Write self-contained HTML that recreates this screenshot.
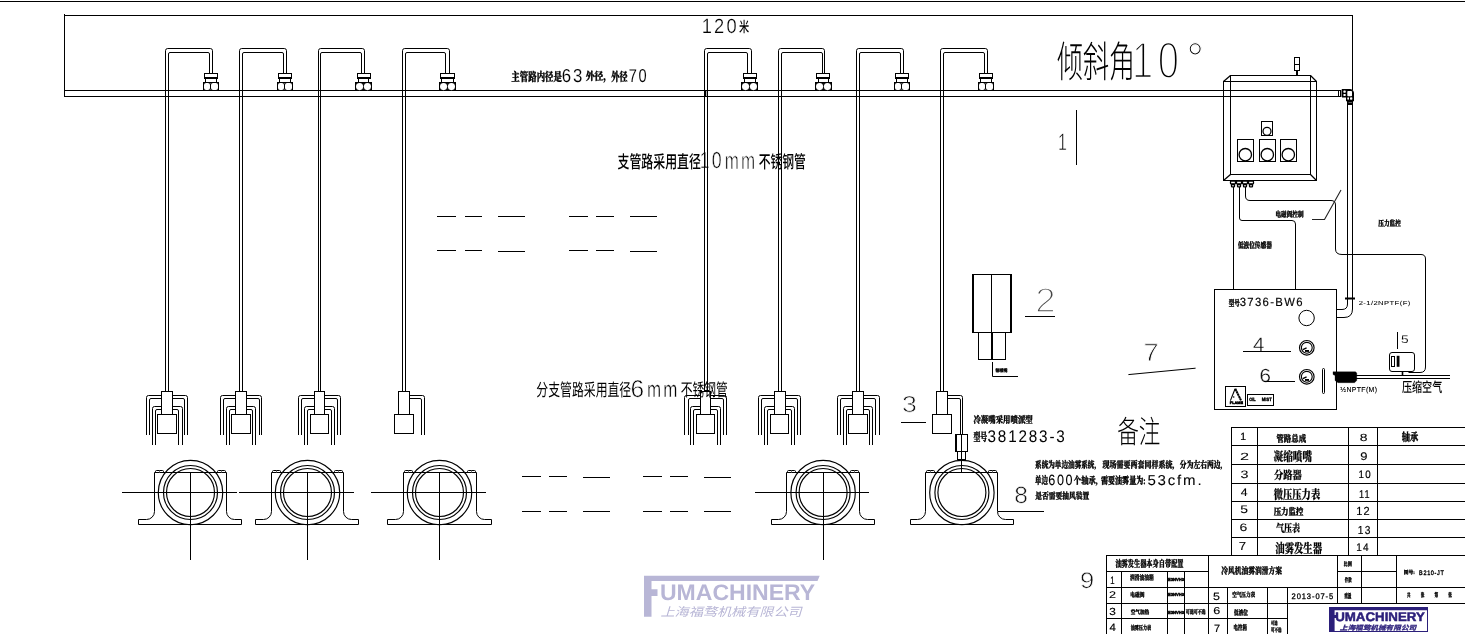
<!DOCTYPE html>
<html lang="zh"><head><meta charset="utf-8"><title>冷风机油雾润滑方案</title>
<style>html,body{margin:0;padding:0;background:#fff;overflow:hidden}svg{display:block}svg text{text-rendering:geometricPrecision}text{white-space:pre}</style></head>
<body><svg width="1465" height="634" viewBox="0 0 1465 634">
<rect width="1465" height="634" fill="#fff"/>
<g opacity="0.999">
<text transform="translate(701.72 33.49) scale(0.8904 1)" font-family='"Liberation Sans", "Noto Sans CJK SC", sans-serif' font-weight="400" font-size="20.56" fill="#000" stroke="#fff" stroke-width="0.25" letter-spacing="0.12em">120</text>
<text transform="translate(739.09 32.39) scale(0.7006 1)" font-family='"Liberation Sans", "Noto Sans CJK SC", sans-serif' font-weight="500" font-size="14.57" fill="#000">米</text>
<text transform="translate(511.33 80.88) scale(0.7009 1)" font-family='"Liberation Serif", "Noto Serif CJK SC", serif' font-weight="900" font-size="12.04" fill="#000" stroke="#000" stroke-width="0.35" stroke-linejoin="round">主管路内径是</text>
<text transform="translate(561.66 81.81) scale(0.8989 1)" font-family='"Liberation Sans", "Noto Sans CJK SC", sans-serif' font-weight="400" font-size="18.73" fill="#000" stroke="#fff" stroke-width="0.09" letter-spacing="0.12em">63</text>
<text transform="translate(585.72 79.8) scale(0.8172 1)" font-family='"Liberation Serif", "Noto Serif CJK SC", serif' font-weight="900" font-size="10.8" fill="#000" stroke="#000" stroke-width="0.35" stroke-linejoin="round">外径，</text>
<text transform="translate(611.34 80.88) scale(0.6769 1)" font-family='"Liberation Serif", "Noto Serif CJK SC", serif' font-weight="900" font-size="12.04" fill="#000" stroke="#000" stroke-width="0.35" stroke-linejoin="round">外径</text>
<text transform="translate(628.67 81.81) scale(0.7825 1)" font-family='"Liberation Sans", "Noto Sans CJK SC", sans-serif' font-weight="400" font-size="18.73" fill="#000" stroke="#fff" stroke-width="0.09" letter-spacing="0.12em">70</text>
<text transform="translate(617.54 168.34) scale(0.6769 1)" font-family='"Liberation Sans", "Noto Sans CJK SC", sans-serif' font-weight="500" font-size="17.6" fill="#000">支管路采用直径</text>
<text transform="translate(699.76 168.47) scale(0.7642 1)" font-family='"Liberation Sans", "Noto Sans CJK SC", sans-serif' font-weight="400" font-size="23.24" fill="#000" stroke="#fff" stroke-width="0.49" letter-spacing="0.12em">10</text>
<text transform="translate(724.78 168.7) scale(0.6937 1)" font-family='"Liberation Sans", "Noto Sans CJK SC", sans-serif' font-weight="400" font-size="24.44" fill="#000" stroke="#fff" stroke-width="0.6" letter-spacing="0.12em">mm</text>
<text transform="translate(758.65 168.34) scale(0.6695 1)" font-family='"Liberation Sans", "Noto Sans CJK SC", sans-serif' font-weight="500" font-size="17.6" fill="#000">不锈钢管</text>
<text transform="translate(536.33 396.26) scale(0.6833 1)" font-family='"Liberation Sans", "Noto Sans CJK SC", sans-serif' font-weight="400" font-size="17.37" fill="#000">分支管路采用直径</text>
<text transform="translate(630.58 396.96) scale(1.0042 1)" font-family='"Liberation Sans", "Noto Sans CJK SC", sans-serif' font-weight="400" font-size="24.37" fill="#000" stroke="#fff" stroke-width="0.6" letter-spacing="0.12em">6</text>
<text transform="translate(646.98 397.2) scale(0.7506 1)" font-family='"Liberation Sans", "Noto Sans CJK SC", sans-serif' font-weight="400" font-size="22.59" fill="#000" stroke="#fff" stroke-width="0.43" letter-spacing="0.12em">mm</text>
<text transform="translate(680.73 396.42) scale(0.6705 1)" font-family='"Liberation Sans", "Noto Sans CJK SC", sans-serif' font-weight="400" font-size="17.55" fill="#000">不锈钢管</text>
<text transform="translate(1056.88 77.27) scale(0.6123 1)" font-family='"Liberation Sans", "Noto Sans CJK SC", sans-serif' font-weight="200" font-size="42.58" fill="#000">倾斜角</text>
<text transform="translate(1131.93 78.08) scale(0.7407 1)" font-family='"Liberation Sans", "Noto Sans CJK SC", sans-serif' font-weight="400" font-size="51.55" fill="#000" stroke="#fff" stroke-width="2.34" letter-spacing="0.12em">10</text>
<text transform="translate(1186.53 73.5) scale(0.9655 1)" font-family='"Liberation Sans", "Noto Sans CJK SC", sans-serif' font-weight="400" font-size="45" fill="#000" stroke="#fff" stroke-width="1.35" letter-spacing="0.12em">°</text>
<text transform="translate(1057.89 149.9) scale(0.6735 1)" font-family='"Liberation Sans", "Noto Sans CJK SC", sans-serif' font-weight="400" font-size="23.62" fill="#111" stroke="#fff" stroke-width="0.53" letter-spacing="0.12em">1</text>
<text transform="translate(1035.36 312.3) scale(1.0627 1)" font-family='"Liberation Sans", "Noto Sans CJK SC", sans-serif' font-weight="400" font-size="34.57" fill="#444" stroke="#fff" stroke-width="1.61" letter-spacing="0.12em">2</text>
<text transform="translate(901.9 412.47) scale(1.1645 1)" font-family='"Liberation Sans", "Noto Sans CJK SC", sans-serif' font-weight="400" font-size="22.96" fill="#111" stroke="#fff" stroke-width="0.69" letter-spacing="0.12em">3</text>
<text transform="translate(1143.44 360.8) scale(1.0870 1)" font-family='"Liberation Sans", "Noto Sans CJK SC", sans-serif' font-weight="400" font-size="25" fill="#111" stroke="#fff" stroke-width="0.78" letter-spacing="0.12em">7</text>
<text transform="translate(1014.22 502.76) scale(1.0452 1)" font-family='"Liberation Sans", "Noto Sans CJK SC", sans-serif' font-weight="400" font-size="23.52" fill="#111" stroke="#fff" stroke-width="0.59" letter-spacing="0.12em">8</text>
<text transform="translate(1079.98 587.77) scale(1.1330 1)" font-family='"Liberation Sans", "Noto Sans CJK SC", sans-serif' font-weight="400" font-size="22.54" fill="#111" stroke="#fff" stroke-width="0.62" letter-spacing="0.12em">9</text>
<text transform="translate(1252.99 350.7) scale(1.0496 1)" font-family='"Liberation Sans", "Noto Sans CJK SC", sans-serif' font-weight="400" font-size="19.43" fill="#111" stroke="#fff" stroke-width="0.22" letter-spacing="0.12em">4</text>
<text transform="translate(1259.57 381.51) scale(1.0774 1)" font-family='"Liberation Sans", "Noto Sans CJK SC", sans-serif' font-weight="400" font-size="19.15" fill="#111" stroke="#fff" stroke-width="0.24" letter-spacing="0.12em">6</text>
<text transform="translate(1400.95 342.89) scale(1.2340 1)" font-family='"Liberation Sans", "Noto Sans CJK SC", sans-serif' font-weight="400" font-size="11.14" fill="#000" stroke="#fff" stroke-width="0.11" letter-spacing="0.12em">5</text>
<text transform="translate(995.56 371.98) scale(0.9100 1)" font-family='"Liberation Serif", "Noto Serif CJK SC", serif' font-weight="900" font-size="4.34" fill="#000" stroke="#000" stroke-width="0.35" stroke-linejoin="round">铜喷嘴</text>
<text transform="translate(973.43 422.69) scale(0.7887 1)" font-family='"Liberation Serif", "Noto Serif CJK SC", serif' font-weight="900" font-size="9.42" fill="#000" stroke="#000" stroke-width="0.35" stroke-linejoin="round">冷凝嘴采用喷派型</text>
<text transform="translate(973.43 440.94) scale(0.5996 1)" font-family='"Liberation Serif", "Noto Serif CJK SC", serif' font-weight="900" font-size="11.43" fill="#000" stroke="#000" stroke-width="0.35" stroke-linejoin="round">型号</text>
<text transform="translate(987.54 442.03) scale(0.9029 1)" font-family='"Liberation Sans", "Noto Sans CJK SC", sans-serif' font-weight="400" font-size="16.9" fill="#000" stroke="#000" stroke-width="0.03" stroke-linejoin="round" letter-spacing="0.12em">381283-3</text>
<text transform="translate(1117.25 442.8) scale(0.6889 1)" font-family='"Liberation Sans", "Noto Sans CJK SC", sans-serif' font-weight="300" font-size="31.29" fill="#000">备注</text>
<text transform="translate(1035.07 467.59) scale(0.7017 1)" font-family='"Liberation Serif", "Noto Serif CJK SC", serif' font-weight="900" font-size="9.42" fill="#000" stroke="#000" stroke-width="0.35" stroke-linejoin="round">系统为单边油雾系统,</text>
<text transform="translate(1102.5 467.61) scale(0.7501 1)" font-family='"Liberation Serif", "Noto Serif CJK SC", serif' font-weight="900" font-size="9.33" fill="#000" stroke="#000" stroke-width="0.35" stroke-linejoin="round">现场需要两套同样系统,</text>
<text transform="translate(1179.86 467.61) scale(0.7263 1)" font-family='"Liberation Serif", "Noto Serif CJK SC", serif' font-weight="900" font-size="9.33" fill="#000" stroke="#000" stroke-width="0.35" stroke-linejoin="round">分为左右两边,</text>
<text transform="translate(1035.07 484.04) scale(0.6210 1)" font-family='"Liberation Serif", "Noto Serif CJK SC", serif' font-weight="900" font-size="10.52" fill="#000" stroke="#000" stroke-width="0.35" stroke-linejoin="round">单边</text>
<text transform="translate(1048.37 485.05) scale(0.8454 1)" font-family='"Liberation Sans", "Noto Sans CJK SC", sans-serif' font-weight="400" font-size="14.93" fill="#000" stroke="#000" stroke-width="0.09" stroke-linejoin="round" letter-spacing="0.12em">600</text>
<text transform="translate(1073.85 483.62) scale(0.7416 1)" font-family='"Liberation Serif", "Noto Serif CJK SC", serif' font-weight="900" font-size="9.9" fill="#000" stroke="#000" stroke-width="0.35" stroke-linejoin="round">个轴承,</text>
<text transform="translate(1101 483.79) scale(0.6971 1)" font-family='"Liberation Serif", "Noto Serif CJK SC", serif' font-weight="900" font-size="10.1" fill="#000" stroke="#000" stroke-width="0.35" stroke-linejoin="round">需要油雾量为:</text>
<text transform="translate(1147.4 485.06) scale(1.0512 1)" font-family='"Liberation Sans", "Noto Sans CJK SC", sans-serif' font-weight="400" font-size="14.32" fill="#000" stroke="#000" stroke-width="0.08" stroke-linejoin="round" letter-spacing="0.12em">53cfm.</text>
<text transform="translate(1035.13 499.15) scale(0.7599 1)" font-family='"Liberation Serif", "Noto Serif CJK SC", serif' font-weight="900" font-size="8.92" fill="#000" stroke="#000" stroke-width="0.35" stroke-linejoin="round">是否需要抽风装置</text>
<text transform="translate(1275.49 217.1) scale(0.7523 1)" font-family='"Liberation Serif", "Noto Serif CJK SC", serif' font-weight="900" font-size="7.48" fill="#000" stroke="#000" stroke-width="0.35" stroke-linejoin="round">电磁阀控制</text>
<text transform="translate(1237.9 247.89) scale(0.7023 1)" font-family='"Liberation Serif", "Noto Serif CJK SC", serif' font-weight="900" font-size="8.06" fill="#000" stroke="#000" stroke-width="0.35" stroke-linejoin="round">低液位传感器</text>
<text transform="translate(1378.29 225.84) scale(0.7453 1)" font-family='"Liberation Serif", "Noto Serif CJK SC", serif' font-weight="900" font-size="7.6" fill="#000" stroke="#000" stroke-width="0.35" stroke-linejoin="round">压力监控</text>
<text transform="translate(1228.74 305.88) scale(0.6613 1)" font-family='"Liberation Serif", "Noto Serif CJK SC", serif' font-weight="900" font-size="8.37" fill="#000" stroke="#000" stroke-width="0.35" stroke-linejoin="round">型号</text>
<text transform="translate(1239.66 306.18) scale(0.9449 1)" font-family='"Liberation Sans", "Noto Sans CJK SC", sans-serif' font-weight="400" font-size="11.97" fill="#000" stroke="#000" stroke-width="0.18" stroke-linejoin="round" letter-spacing="0.12em">3736-BW6</text>
<text transform="translate(1358.72 304.67) scale(1.3127 1)" font-family='"Liberation Sans", "Noto Sans CJK SC", sans-serif' font-weight="400" font-size="5.85" fill="#000" stroke="#000" stroke-width="0.06" stroke-linejoin="round" letter-spacing="0.05em">2-1/2NPTF(F)</text>
<text transform="translate(1340.26 391.8) scale(0.9755 1)" font-family='"Liberation Sans", "Noto Sans CJK SC", sans-serif' font-weight="400" font-size="7.13" fill="#000" stroke="#000" stroke-width="0.13" stroke-linejoin="round" letter-spacing="0.05em">½NPTF(M)</text>
<text transform="translate(1401.9 392.43) scale(0.7346 1)" font-family='"Liberation Sans", "Noto Sans CJK SC", sans-serif' font-weight="500" font-size="13.75" fill="#000">压缩空气</text>
<text transform="translate(1249.14 400.65) scale(0.8442 1)" font-family='"Liberation Sans", "Noto Sans CJK SC", sans-serif' font-weight="700" font-size="4.65" fill="#000" stroke="#000" stroke-width="0.4" stroke-linejoin="round">OIL</text>
<text transform="translate(1261.85 400.65) scale(0.8873 1)" font-family='"Liberation Sans", "Noto Sans CJK SC", sans-serif' font-weight="700" font-size="4.65" fill="#000" stroke="#000" stroke-width="0.4" stroke-linejoin="round">MIST</text>
<text transform="translate(1229.87 403.76) scale(1.0946 1)" font-family='"Liberation Sans", "Noto Sans CJK SC", sans-serif' font-weight="700" font-size="3.52" fill="#000" stroke="#000" stroke-width="0.5" stroke-linejoin="round">FLAME</text>
<text transform="translate(1240.17 440) scale(1.0019 1)" font-family='"Liberation Sans", "Noto Sans CJK SC", sans-serif' font-weight="400" font-size="10.43" fill="#000" stroke="#000" stroke-width="0.23" stroke-linejoin="round" letter-spacing="0.12em">1</text>
<text transform="translate(1240.08 459.6) scale(1.5634 1)" font-family='"Liberation Sans", "Noto Sans CJK SC", sans-serif' font-weight="400" font-size="10.43" fill="#000" stroke="#000" stroke-width="0.03" stroke-linejoin="round" letter-spacing="0.12em">2</text>
<text transform="translate(1240.47 477.59) scale(1.3173 1)" font-family='"Liberation Sans", "Noto Sans CJK SC", sans-serif' font-weight="400" font-size="10.85" fill="#000" stroke="#000" stroke-width="0.08" stroke-linejoin="round" letter-spacing="0.12em">3</text>
<text transform="translate(1240.66 495.9) scale(1.1052 1)" font-family='"Liberation Sans", "Noto Sans CJK SC", sans-serif' font-weight="400" font-size="11" fill="#000" stroke="#000" stroke-width="0.16" stroke-linejoin="round" letter-spacing="0.12em">4</text>
<text transform="translate(1240.34 513.49) scale(1.2689 1)" font-family='"Liberation Sans", "Noto Sans CJK SC", sans-serif' font-weight="400" font-size="11" fill="#000" stroke="#000" stroke-width="0.09" stroke-linejoin="round" letter-spacing="0.12em">5</text>
<text transform="translate(1239.5 531.49) scale(1.2948 1)" font-family='"Liberation Sans", "Noto Sans CJK SC", sans-serif' font-weight="400" font-size="10.85" fill="#000" stroke="#000" stroke-width="0.09" stroke-linejoin="round" letter-spacing="0.12em">6</text>
<text transform="translate(1238.74 549.6) scale(1.1320 1)" font-family='"Liberation Sans", "Noto Sans CJK SC", sans-serif' font-weight="400" font-size="11.71" fill="#000" stroke="#000" stroke-width="0.13" stroke-linejoin="round" letter-spacing="0.12em">7</text>
<text transform="translate(1276.45 442.16) scale(0.7826 1)" font-family='"Liberation Serif", "Noto Serif CJK SC", serif' font-weight="900" font-size="9.49" fill="#000" stroke="#000" stroke-width="0.35" stroke-linejoin="round">管路总成</text>
<text transform="translate(1273.61 461.37) scale(0.7559 1)" font-family='"Liberation Serif", "Noto Serif CJK SC", serif' font-weight="900" font-size="12.73" fill="#000" stroke="#000" stroke-width="0.2" stroke-linejoin="round">凝缩喷嘴</text>
<text transform="translate(1273.91 478.55) scale(0.8205 1)" font-family='"Liberation Serif", "Noto Serif CJK SC", serif' font-weight="900" font-size="11.33" fill="#000" stroke="#000" stroke-width="0.2" stroke-linejoin="round">分路器</text>
<text transform="translate(1273.8 499.27) scale(0.7289 1)" font-family='"Liberation Serif", "Noto Serif CJK SC", serif' font-weight="900" font-size="12.73" fill="#000" stroke="#000" stroke-width="0.2" stroke-linejoin="round">微压压力表</text>
<text transform="translate(1273.65 515.06) scale(0.7926 1)" font-family='"Liberation Serif", "Noto Serif CJK SC", serif' font-weight="900" font-size="9.38" fill="#000" stroke="#000" stroke-width="0.35" stroke-linejoin="round">压力监控</text>
<text transform="translate(1275.94 532.39) scale(0.7401 1)" font-family='"Liberation Serif", "Noto Serif CJK SC", serif' font-weight="900" font-size="10.91" fill="#000" stroke="#000" stroke-width="0.2" stroke-linejoin="round">气压表</text>
<text transform="translate(1275.31 552.55) scale(0.7108 1)" font-family='"Liberation Serif", "Noto Serif CJK SC", serif' font-weight="900" font-size="13.16" fill="#000" stroke="#000" stroke-width="0.2" stroke-linejoin="round">油雾发生器</text>
<text transform="translate(1359.64 440.7) scale(1.3392 1)" font-family='"Liberation Sans", "Noto Sans CJK SC", sans-serif' font-weight="400" font-size="10.42" fill="#000" stroke="#000" stroke-width="0.09" stroke-linejoin="round" letter-spacing="0.12em">8</text>
<text transform="translate(1360.28 460.49) scale(1.1814 1)" font-family='"Liberation Sans", "Noto Sans CJK SC", sans-serif' font-weight="400" font-size="10.99" fill="#000" stroke="#000" stroke-width="0.13" stroke-linejoin="round" letter-spacing="0.12em">9</text>
<text transform="translate(1358.62 477.59) scale(0.9007 1)" font-family='"Liberation Sans", "Noto Sans CJK SC", sans-serif' font-weight="400" font-size="10.85" fill="#000" stroke="#000" stroke-width="0.22" stroke-linejoin="round" letter-spacing="0.12em">10</text>
<text transform="translate(1359.06 498) scale(0.8170 1)" font-family='"Liberation Sans", "Noto Sans CJK SC", sans-serif' font-weight="400" font-size="11.16" fill="#000" stroke="#000" stroke-width="0.21" stroke-linejoin="round" letter-spacing="0.12em">11</text>
<text transform="translate(1356.13 515.2) scale(0.9407 1)" font-family='"Liberation Sans", "Noto Sans CJK SC", sans-serif' font-weight="400" font-size="11.71" fill="#000" stroke="#000" stroke-width="0.19" stroke-linejoin="round" letter-spacing="0.12em">12</text>
<text transform="translate(1357.79 533.98) scale(0.8842 1)" font-family='"Liberation Sans", "Noto Sans CJK SC", sans-serif' font-weight="400" font-size="11.55" fill="#000" stroke="#000" stroke-width="0.2" stroke-linejoin="round" letter-spacing="0.12em">13</text>
<text transform="translate(1356.2 550.8) scale(0.9122 1)" font-family='"Liberation Sans", "Noto Sans CJK SC", sans-serif' font-weight="400" font-size="11" fill="#000" stroke="#000" stroke-width="0.21" stroke-linejoin="round" letter-spacing="0.12em">14</text>
<text transform="translate(1401.82 440.97) scale(0.7304 1)" font-family='"Liberation Serif", "Noto Serif CJK SC", serif' font-weight="900" font-size="11.34" fill="#000" stroke="#000" stroke-width="0.35" stroke-linejoin="round">轴承</text>
<text transform="translate(1115.38 567.16) scale(0.6532 1)" font-family='"Liberation Serif", "Noto Serif CJK SC", serif' font-weight="900" font-size="9.49" fill="#000" stroke="#000" stroke-width="0.35" stroke-linejoin="round">油雾发生器本身自带配置</text>
<text transform="translate(1221.23 573.92) scale(0.7323 1)" font-family='"Liberation Serif", "Noto Serif CJK SC", serif' font-weight="900" font-size="9.23" fill="#000" stroke="#000" stroke-width="0.35" stroke-linejoin="round">冷风机油雾润滑方案</text>
<text transform="translate(1110.16 584.1) scale(0.7109 1)" font-family='"Liberation Sans", "Noto Sans CJK SC", sans-serif' font-weight="400" font-size="10.87" fill="#000" stroke="#000" stroke-width="0.22" stroke-linejoin="round" letter-spacing="0.12em">1</text>
<text transform="translate(1109.07 597.8) scale(1.2980 1)" font-family='"Liberation Sans", "Noto Sans CJK SC", sans-serif' font-weight="400" font-size="9.71" fill="#000" stroke="#000" stroke-width="0.13" stroke-linejoin="round" letter-spacing="0.12em">2</text>
<text transform="translate(1109.34 615.2) scale(1.1512 1)" font-family='"Liberation Sans", "Noto Sans CJK SC", sans-serif' font-weight="400" font-size="10.28" fill="#000" stroke="#000" stroke-width="0.16" stroke-linejoin="round" letter-spacing="0.12em">3</text>
<text transform="translate(1109.47 630.5) scale(1.0614 1)" font-family='"Liberation Sans", "Noto Sans CJK SC", sans-serif' font-weight="400" font-size="10.71" fill="#000" stroke="#000" stroke-width="0.19" stroke-linejoin="round" letter-spacing="0.12em">4</text>
<text transform="translate(1130.11 580.34) scale(0.6828 1)" font-family='"Liberation Serif", "Noto Serif CJK SC", serif' font-weight="900" font-size="6.94" fill="#000" stroke="#000" stroke-width="0.35" stroke-linejoin="round">润滑油油箱</text>
<text transform="translate(1130.37 596.81) scale(0.7626 1)" font-family='"Liberation Serif", "Noto Serif CJK SC", serif' font-weight="900" font-size="6.21" fill="#000" stroke="#000" stroke-width="0.35" stroke-linejoin="round">电磁阀</text>
<text transform="translate(1130.75 613.77) scale(0.8083 1)" font-family='"Liberation Serif", "Noto Serif CJK SC", serif' font-weight="900" font-size="5.7" fill="#000" stroke="#000" stroke-width="0.35" stroke-linejoin="round">空气加热</text>
<text transform="translate(1130.72 629.55) scale(0.6503 1)" font-family='"Liberation Serif", "Noto Serif CJK SC", serif' font-weight="900" font-size="6.26" fill="#000" stroke="#000" stroke-width="0.35" stroke-linejoin="round">油雾压力表</text>
<text transform="translate(1168.05 580.66) scale(0.9792 1)" font-family='"Liberation Sans", "Noto Sans CJK SC", sans-serif' font-weight="700" font-size="4.23" fill="#000" stroke="#000" stroke-width="0.45" stroke-linejoin="round">E3NVH0</text>
<text transform="translate(1168.05 596.36) scale(0.9792 1)" font-family='"Liberation Sans", "Noto Sans CJK SC", sans-serif' font-weight="700" font-size="4.23" fill="#000" stroke="#000" stroke-width="0.45" stroke-linejoin="round">E3NVH0</text>
<text transform="translate(1168.05 613.76) scale(0.9792 1)" font-family='"Liberation Sans", "Noto Sans CJK SC", sans-serif' font-weight="700" font-size="4.23" fill="#000" stroke="#000" stroke-width="0.45" stroke-linejoin="round">E3NVH0</text>
<text transform="translate(1185.72 613.61) scale(0.6731 1)" font-family='"Liberation Serif", "Noto Serif CJK SC", serif' font-weight="900" font-size="5.92" fill="#000" stroke="#000" stroke-width="0.35" stroke-linejoin="round">可选可不选</text>
<text transform="translate(1213 599.69) scale(1.1667 1)" font-family='"Liberation Sans", "Noto Sans CJK SC", sans-serif' font-weight="400" font-size="10.71" fill="#000" stroke="#000" stroke-width="0.14" stroke-linejoin="round" letter-spacing="0.12em">5</text>
<text transform="translate(1213.37 614.1) scale(1.2553 1)" font-family='"Liberation Sans", "Noto Sans CJK SC", sans-serif' font-weight="400" font-size="10" fill="#000" stroke="#000" stroke-width="0.13" stroke-linejoin="round" letter-spacing="0.12em">6</text>
<text transform="translate(1213.96 631.9) scale(1.0145 1)" font-family='"Liberation Sans", "Noto Sans CJK SC", sans-serif' font-weight="400" font-size="10.71" fill="#000" stroke="#000" stroke-width="0.21" stroke-linejoin="round" letter-spacing="0.12em">7</text>
<text transform="translate(1232.15 597.33) scale(0.7128 1)" font-family='"Liberation Serif", "Noto Serif CJK SC", serif' font-weight="900" font-size="6.44" fill="#000" stroke="#000" stroke-width="0.35" stroke-linejoin="round">空气压力表</text>
<text transform="translate(1234 614.77) scale(0.6767 1)" font-family='"Liberation Serif", "Noto Serif CJK SC", serif' font-weight="900" font-size="6.89" fill="#000" stroke="#000" stroke-width="0.35" stroke-linejoin="round">低液位</text>
<text transform="translate(1233.6 629.8) scale(0.6318 1)" font-family='"Liberation Serif", "Noto Serif CJK SC", serif' font-weight="900" font-size="7.01" fill="#000" stroke="#000" stroke-width="0.35" stroke-linejoin="round">电控箱</text>
<text transform="translate(1271.04 624.97) scale(0.6123 1)" font-family='"Liberation Serif", "Noto Serif CJK SC", serif' font-weight="900" font-size="5.31" fill="#000" stroke="#000" stroke-width="0.35" stroke-linejoin="round">可选</text>
<text transform="translate(1271.03 632.05) scale(0.6233 1)" font-family='"Liberation Serif", "Noto Serif CJK SC", serif' font-weight="900" font-size="5.51" fill="#000" stroke="#000" stroke-width="0.35" stroke-linejoin="round">可不选</text>
<text transform="translate(1343.57 565.78) scale(0.7315 1)" font-family='"Liberation Serif", "Noto Serif CJK SC", serif' font-weight="900" font-size="5.61" fill="#000" stroke="#000" stroke-width="0.35" stroke-linejoin="round">比例</text>
<text transform="translate(1344.87 581.53) scale(0.6026 1)" font-family='"Liberation Serif", "Noto Serif CJK SC", serif' font-weight="900" font-size="5.67" fill="#000" stroke="#000" stroke-width="0.35" stroke-linejoin="round">件数</text>
<text transform="translate(1344.13 598.4) scale(0.5833 1)" font-family='"Liberation Serif", "Noto Serif CJK SC", serif' font-weight="900" font-size="6.21" fill="#000" stroke="#000" stroke-width="0.35" stroke-linejoin="round">重量</text>
<text transform="translate(1403.77 574.24) scale(0.9346 1)" font-family='"Liberation Serif", "Noto Serif CJK SC", serif' font-weight="900" font-size="5.1" fill="#000" stroke="#000" stroke-width="0.35" stroke-linejoin="round">图号:</text>
<text transform="translate(1419.06 574.54) scale(0.8527 1)" font-family='"Liberation Sans", "Noto Sans CJK SC", sans-serif' font-weight="400" font-size="6.48" fill="#000" stroke="#000" stroke-width="0.36" stroke-linejoin="round" letter-spacing="0.12em">B210-JT</text>
<text transform="translate(1406.93 597.05) scale(0.6140 1)" font-family='"Liberation Serif", "Noto Serif CJK SC", serif' font-weight="900" font-size="5.59" fill="#000" stroke="#000" stroke-width="0.35" stroke-linejoin="round">共</text>
<text transform="translate(1420.69 597.41) scale(0.6140 1)" font-family='"Liberation Serif", "Noto Serif CJK SC", serif' font-weight="900" font-size="5.94" fill="#000" stroke="#000" stroke-width="0.35" stroke-linejoin="round">张</text>
<text transform="translate(1434.53 597.41) scale(0.6140 1)" font-family='"Liberation Serif", "Noto Serif CJK SC", serif' font-weight="900" font-size="5.94" fill="#000" stroke="#000" stroke-width="0.35" stroke-linejoin="round">第</text>
<text transform="translate(1448.29 597.41) scale(0.6140 1)" font-family='"Liberation Serif", "Noto Serif CJK SC", serif' font-weight="900" font-size="5.94" fill="#000" stroke="#000" stroke-width="0.35" stroke-linejoin="round">张</text>
<text transform="translate(1291.52 598.62) scale(0.9423 1)" font-family='"Liberation Sans", "Noto Sans CJK SC", sans-serif' font-weight="400" font-size="8.03" fill="#000" stroke="#000" stroke-width="0.31" stroke-linejoin="round" letter-spacing="0.12em">2013-07-5</text>
<text transform="translate(659.92 599.98) scale(1.0297 1)" font-family='"Liberation Sans", "Noto Sans CJK SC", sans-serif' font-weight="700" font-size="22.39" fill="#b8b6d6">UMACHINERY</text>
<text transform="translate(660.43 616.05) scale(1.1946 1)" font-family='"Liberation Sans", "Noto Sans CJK SC", sans-serif' font-weight="400" font-style="italic" font-size="11.83" fill="#b8b6d6">上海福骛机械有限公司</text>
<text transform="translate(1335.2 620.87) scale(1.0603 1)" font-family='"Liberation Sans", "Noto Sans CJK SC", sans-serif' font-weight="700" font-size="12.54" fill="#2b1f7a" stroke="#2b1f7a" stroke-width="0.5" stroke-linejoin="round">UMACHINERY</text>
<text transform="translate(1339.77 629.86) scale(1.1928 1)" font-family='"Liberation Sans", "Noto Sans CJK SC", sans-serif' font-weight="700" font-style="italic" font-size="6.42" fill="#2b1f7a" stroke="#2b1f7a" stroke-width="0.3" stroke-linejoin="round">上海福骛机械有限公司</text>
</g>
<g stroke-linecap="butt" stroke-linejoin="miter">
<line x1="0" y1="1.5" x2="1465" y2="1.5" stroke="#000" stroke-width="1"/>
<line x1="64.5" y1="14" x2="64.5" y2="97" stroke="#000" stroke-width="1"/>
<line x1="64" y1="15.5" x2="1353" y2="15.5" stroke="#000" stroke-width="1"/>
<line x1="1352.5" y1="15" x2="1352.5" y2="90" stroke="#000" stroke-width="1"/>
<line x1="64" y1="90.5" x2="1341" y2="90.5" stroke="#000" stroke-width="1"/>
<line x1="64" y1="96.5" x2="1341" y2="96.5" stroke="#000" stroke-width="1"/>
<path d="M165.5 391 V50.7 Q165.5 48.5 167.7 48.5 H210.3 Q212.5 48.5 212.5 50.7 V73" fill="none" stroke="#000" stroke-width="1"/>
<path d="M168.5 391 V54 Q168.5 52.5 170 52.5 H208 Q209.5 52.5 209.5 54 V73" fill="none" stroke="#000" stroke-width="1"/>
<rect x="204.5" y="73.5" width="13" height="5" fill="none" stroke="#000" stroke-width="1"/>
<line x1="204" y1="77.5" x2="218" y2="77.5" stroke="#000" stroke-width="1"/>
<rect x="205.5" y="78.5" width="11" height="4" fill="none" stroke="#000" stroke-width="1"/>
<rect x="203.5" y="82.5" width="15" height="8" fill="none" stroke="#000" stroke-width="1"/>
<rect x="203.5" y="82.5" width="7" height="8" fill="none" stroke="#000" stroke-width="1" rx="2.5"/>
<rect x="210.5" y="82.5" width="8" height="8" fill="none" stroke="#000" stroke-width="1" rx="2.5"/>
<path d="M239.5 391 V50.7 Q239.5 48.5 241.7 48.5 H284.3 Q286.5 48.5 286.5 50.7 V73" fill="none" stroke="#000" stroke-width="1"/>
<path d="M242.5 391 V54 Q242.5 52.5 244 52.5 H282 Q283.5 52.5 283.5 54 V73" fill="none" stroke="#000" stroke-width="1"/>
<rect x="278.5" y="73.5" width="13" height="5" fill="none" stroke="#000" stroke-width="1"/>
<line x1="278" y1="77.5" x2="292" y2="77.5" stroke="#000" stroke-width="1"/>
<rect x="279.5" y="78.5" width="11" height="4" fill="none" stroke="#000" stroke-width="1"/>
<rect x="277.5" y="82.5" width="15" height="8" fill="none" stroke="#000" stroke-width="1"/>
<rect x="277.5" y="82.5" width="7" height="8" fill="none" stroke="#000" stroke-width="1" rx="2.5"/>
<rect x="284.5" y="82.5" width="8" height="8" fill="none" stroke="#000" stroke-width="1" rx="2.5"/>
<path d="M318.5 391 V50.7 Q318.5 48.5 320.7 48.5 H362.3 Q364.5 48.5 364.5 50.7 V73" fill="none" stroke="#000" stroke-width="1"/>
<path d="M320.5 391 V54 Q320.5 52.5 322 52.5 H360 Q361.5 52.5 361.5 54 V73" fill="none" stroke="#000" stroke-width="1"/>
<rect x="357.5" y="73.5" width="13" height="5" fill="none" stroke="#000" stroke-width="1"/>
<line x1="357" y1="77.5" x2="371" y2="77.5" stroke="#000" stroke-width="1"/>
<rect x="358.5" y="78.5" width="10" height="4" fill="none" stroke="#000" stroke-width="1"/>
<rect x="355.5" y="82.5" width="16" height="8" fill="#111" stroke="#000" stroke-width="1"/>
<circle cx="359.55" cy="86.6" r="3.55" fill="#fff" stroke="#000" stroke-width="0"/>
<circle cx="367.45" cy="86.6" r="3.55" fill="#fff" stroke="#000" stroke-width="0"/>
<path d="M402.5 391 V50.7 Q402.5 48.5 404.7 48.5 H447.3 Q449.5 48.5 449.5 50.7 V73" fill="none" stroke="#000" stroke-width="1"/>
<path d="M405.5 391 V54 Q405.5 52.5 407 52.5 H444 Q445.5 52.5 445.5 54 V73" fill="none" stroke="#000" stroke-width="1"/>
<rect x="440.5" y="73.5" width="14" height="5" fill="none" stroke="#000" stroke-width="1"/>
<line x1="440" y1="77.5" x2="455" y2="77.5" stroke="#000" stroke-width="1"/>
<rect x="441.5" y="78.5" width="12" height="4" fill="none" stroke="#000" stroke-width="1"/>
<rect x="439.5" y="82.5" width="16" height="8" fill="#111" stroke="#000" stroke-width="1"/>
<circle cx="443.55" cy="86.6" r="3.55" fill="#fff" stroke="#000" stroke-width="0"/>
<circle cx="451.45" cy="86.6" r="3.55" fill="#fff" stroke="#000" stroke-width="0"/>
<path d="M704.5 391 V50.7 Q704.5 48.5 706.7 48.5 H749.3 Q751.5 48.5 751.5 50.7 V73" fill="none" stroke="#000" stroke-width="1"/>
<path d="M707.5 391 V54 Q707.5 52.5 709 52.5 H746 Q747.5 52.5 747.5 54 V73" fill="none" stroke="#000" stroke-width="1"/>
<rect x="743.5" y="73.5" width="13" height="5" fill="none" stroke="#000" stroke-width="1"/>
<line x1="743" y1="77.5" x2="757" y2="77.5" stroke="#000" stroke-width="1"/>
<rect x="744.5" y="78.5" width="11" height="4" fill="none" stroke="#000" stroke-width="1"/>
<rect x="741.5" y="82.5" width="16" height="8" fill="#111" stroke="#000" stroke-width="1"/>
<circle cx="745.55" cy="86.6" r="3.55" fill="#fff" stroke="#000" stroke-width="0"/>
<circle cx="753.45" cy="86.6" r="3.55" fill="#fff" stroke="#000" stroke-width="0"/>
<path d="M778.5 391 V50.7 Q778.5 48.5 780.7 48.5 H822.3 Q824.5 48.5 824.5 50.7 V73" fill="none" stroke="#000" stroke-width="1"/>
<path d="M781.5 391 V54 Q781.5 52.5 783 52.5 H821 Q822.5 52.5 822.5 54 V73" fill="none" stroke="#000" stroke-width="1"/>
<rect x="816.5" y="73.5" width="13" height="5" fill="none" stroke="#000" stroke-width="1"/>
<line x1="816" y1="77.5" x2="830" y2="77.5" stroke="#000" stroke-width="1"/>
<rect x="818.5" y="78.5" width="10" height="4" fill="none" stroke="#000" stroke-width="1"/>
<rect x="815.5" y="82.5" width="16" height="8" fill="#111" stroke="#000" stroke-width="1"/>
<circle cx="819.55" cy="86.6" r="3.55" fill="#fff" stroke="#000" stroke-width="0"/>
<circle cx="827.45" cy="86.6" r="3.55" fill="#fff" stroke="#000" stroke-width="0"/>
<path d="M856.5 391 V50.7 Q856.5 48.5 858.7 48.5 H901.3 Q903.5 48.5 903.5 50.7 V73" fill="none" stroke="#000" stroke-width="1"/>
<path d="M859.5 391 V54 Q859.5 52.5 861 52.5 H899 Q900.5 52.5 900.5 54 V73" fill="none" stroke="#000" stroke-width="1"/>
<rect x="895.5" y="73.5" width="13" height="5" fill="none" stroke="#000" stroke-width="1"/>
<line x1="895" y1="77.5" x2="909" y2="77.5" stroke="#000" stroke-width="1"/>
<rect x="896.5" y="78.5" width="11" height="4" fill="none" stroke="#000" stroke-width="1"/>
<rect x="894.5" y="82.5" width="15" height="8" fill="none" stroke="#000" stroke-width="1"/>
<rect x="894.5" y="82.5" width="7" height="8" fill="none" stroke="#000" stroke-width="1" rx="2.5"/>
<rect x="901.5" y="82.5" width="8" height="8" fill="none" stroke="#000" stroke-width="1" rx="2.5"/>
<path d="M940.5 391 V50.7 Q940.5 48.5 942.7 48.5 H985.3 Q987.5 48.5 987.5 50.7 V73" fill="none" stroke="#000" stroke-width="1"/>
<path d="M943.5 391 V54 Q943.5 52.5 945 52.5 H983 Q984.5 52.5 984.5 54 V73" fill="none" stroke="#000" stroke-width="1"/>
<rect x="979.5" y="73.5" width="13" height="5" fill="none" stroke="#000" stroke-width="1"/>
<line x1="979" y1="77.5" x2="993" y2="77.5" stroke="#000" stroke-width="1"/>
<rect x="980.5" y="78.5" width="11" height="4" fill="none" stroke="#000" stroke-width="1"/>
<rect x="978.5" y="82.5" width="15" height="8" fill="none" stroke="#000" stroke-width="1"/>
<rect x="978.5" y="82.5" width="7" height="8" fill="none" stroke="#000" stroke-width="1" rx="2.5"/>
<rect x="985.5" y="82.5" width="8" height="8" fill="none" stroke="#000" stroke-width="1" rx="2.5"/>
<rect x="704.7" y="91" width="1.6" height="5" fill="#000"/>
<rect x="161.5" y="391.5" width="11" height="23" fill="none" stroke="#000" stroke-width="1"/>
<rect x="157.5" y="414.5" width="19" height="19" fill="none" stroke="#000" stroke-width="1"/>
<path d="M146.5 435 V397.5 Q146.5 395.5 148.5 395.5 H161" fill="none" stroke="#000" stroke-width="1"/>
<path d="M149.5 435 V400 Q149.5 398.5 151 398.5 H161" fill="none" stroke="#000" stroke-width="1"/>
<path d="M152.5 445 V408.5 Q152.5 406.5 154.5 406.5 H161" fill="none" stroke="#000" stroke-width="1"/>
<path d="M155.5 445 V411 Q155.5 409.5 157 409.5 H161" fill="none" stroke="#000" stroke-width="1"/>
<path d="M178.5 445 V411 Q178.5 409.5 177 409.5 H173" fill="none" stroke="#000" stroke-width="1"/>
<path d="M182.5 445 V408.5 Q182.5 406.5 180.5 406.5 H173" fill="none" stroke="#000" stroke-width="1"/>
<path d="M184.5 435 V400 Q184.5 398.5 183 398.5 H173" fill="none" stroke="#000" stroke-width="1"/>
<path d="M187.5 435 V397.5 Q187.5 395.5 185.5 395.5 H173" fill="none" stroke="#000" stroke-width="1"/>
<rect x="235.5" y="391.5" width="11" height="23" fill="none" stroke="#000" stroke-width="1"/>
<rect x="231.5" y="414.5" width="19" height="19" fill="none" stroke="#000" stroke-width="1"/>
<path d="M220.5 435 V397.5 Q220.5 395.5 222.5 395.5 H235" fill="none" stroke="#000" stroke-width="1"/>
<path d="M223.5 435 V400 Q223.5 398.5 225 398.5 H235" fill="none" stroke="#000" stroke-width="1"/>
<path d="M226.5 445 V408.5 Q226.5 406.5 228.5 406.5 H235" fill="none" stroke="#000" stroke-width="1"/>
<path d="M229.5 445 V411 Q229.5 409.5 231 409.5 H235" fill="none" stroke="#000" stroke-width="1"/>
<path d="M252.5 445 V411 Q252.5 409.5 251 409.5 H247" fill="none" stroke="#000" stroke-width="1"/>
<path d="M255.5 445 V408.5 Q255.5 406.5 253.5 406.5 H247" fill="none" stroke="#000" stroke-width="1"/>
<path d="M259.5 435 V400 Q259.5 398.5 258 398.5 H247" fill="none" stroke="#000" stroke-width="1"/>
<path d="M261.5 435 V397.5 Q261.5 395.5 259.5 395.5 H247" fill="none" stroke="#000" stroke-width="1"/>
<rect x="314.5" y="391.5" width="10" height="23" fill="none" stroke="#000" stroke-width="1"/>
<rect x="310.5" y="414.5" width="18" height="19" fill="none" stroke="#000" stroke-width="1"/>
<path d="M298.5 435 V397.5 Q298.5 395.5 300.5 395.5 H314" fill="none" stroke="#000" stroke-width="1"/>
<path d="M301.5 435 V400 Q301.5 398.5 303 398.5 H314" fill="none" stroke="#000" stroke-width="1"/>
<path d="M304.5 445 V408.5 Q304.5 406.5 306.5 406.5 H314" fill="none" stroke="#000" stroke-width="1"/>
<path d="M307.5 445 V411 Q307.5 409.5 309 409.5 H314" fill="none" stroke="#000" stroke-width="1"/>
<path d="M331.5 445 V411 Q331.5 409.5 330 409.5 H325" fill="none" stroke="#000" stroke-width="1"/>
<path d="M334.5 445 V408.5 Q334.5 406.5 332.5 406.5 H325" fill="none" stroke="#000" stroke-width="1"/>
<path d="M337.5 435 V400 Q337.5 398.5 336 398.5 H325" fill="none" stroke="#000" stroke-width="1"/>
<path d="M340.5 435 V397.5 Q340.5 395.5 338.5 395.5 H325" fill="none" stroke="#000" stroke-width="1"/>
<rect x="398.5" y="391.5" width="11" height="23" fill="none" stroke="#000" stroke-width="1"/>
<rect x="394.5" y="414.5" width="19" height="19" fill="none" stroke="#000" stroke-width="1"/>
<path d="M421.5 435 V400 Q421.5 398.5 420 398.5 H410" fill="none" stroke="#000" stroke-width="1"/>
<path d="M424.5 435 V397.5 Q424.5 395.5 422.5 395.5 H410" fill="none" stroke="#000" stroke-width="1"/>
<rect x="700.5" y="391.5" width="10" height="23" fill="none" stroke="#000" stroke-width="1"/>
<rect x="696.5" y="414.5" width="18" height="19" fill="none" stroke="#000" stroke-width="1"/>
<path d="M684.5 435 V397.5 Q684.5 395.5 686.5 395.5 H700" fill="none" stroke="#000" stroke-width="1"/>
<path d="M688.5 435 V400 Q688.5 398.5 690 398.5 H700" fill="none" stroke="#000" stroke-width="1"/>
<path d="M690.5 445 V408.5 Q690.5 406.5 692.5 406.5 H700" fill="none" stroke="#000" stroke-width="1"/>
<path d="M693.5 445 V411 Q693.5 409.5 695 409.5 H700" fill="none" stroke="#000" stroke-width="1"/>
<path d="M717.5 445 V411 Q717.5 409.5 716 409.5 H711" fill="none" stroke="#000" stroke-width="1"/>
<path d="M720.5 445 V408.5 Q720.5 406.5 718.5 406.5 H711" fill="none" stroke="#000" stroke-width="1"/>
<path d="M723.5 435 V400 Q723.5 398.5 722 398.5 H711" fill="none" stroke="#000" stroke-width="1"/>
<path d="M726.5 435 V397.5 Q726.5 395.5 724.5 395.5 H711" fill="none" stroke="#000" stroke-width="1"/>
<rect x="774.5" y="391.5" width="11" height="23" fill="none" stroke="#000" stroke-width="1"/>
<rect x="770.5" y="414.5" width="18" height="19" fill="none" stroke="#000" stroke-width="1"/>
<path d="M758.5 435 V397.5 Q758.5 395.5 760.5 395.5 H774" fill="none" stroke="#000" stroke-width="1"/>
<path d="M761.5 435 V400 Q761.5 398.5 763 398.5 H774" fill="none" stroke="#000" stroke-width="1"/>
<path d="M764.5 445 V408.5 Q764.5 406.5 766.5 406.5 H774" fill="none" stroke="#000" stroke-width="1"/>
<path d="M767.5 445 V411 Q767.5 409.5 769 409.5 H774" fill="none" stroke="#000" stroke-width="1"/>
<path d="M791.5 445 V411 Q791.5 409.5 790 409.5 H786" fill="none" stroke="#000" stroke-width="1"/>
<path d="M794.5 445 V408.5 Q794.5 406.5 792.5 406.5 H786" fill="none" stroke="#000" stroke-width="1"/>
<path d="M797.5 435 V400 Q797.5 398.5 796 398.5 H786" fill="none" stroke="#000" stroke-width="1"/>
<path d="M800.5 435 V397.5 Q800.5 395.5 798.5 395.5 H786" fill="none" stroke="#000" stroke-width="1"/>
<rect x="852.5" y="391.5" width="11" height="23" fill="none" stroke="#000" stroke-width="1"/>
<rect x="848.5" y="414.5" width="19" height="19" fill="none" stroke="#000" stroke-width="1"/>
<path d="M837.5 435 V397.5 Q837.5 395.5 839.5 395.5 H852" fill="none" stroke="#000" stroke-width="1"/>
<path d="M840.5 435 V400 Q840.5 398.5 842 398.5 H852" fill="none" stroke="#000" stroke-width="1"/>
<path d="M843.5 445 V408.5 Q843.5 406.5 845.5 406.5 H852" fill="none" stroke="#000" stroke-width="1"/>
<path d="M846.5 445 V411 Q846.5 409.5 848 409.5 H852" fill="none" stroke="#000" stroke-width="1"/>
<path d="M869.5 445 V411 Q869.5 409.5 868 409.5 H864" fill="none" stroke="#000" stroke-width="1"/>
<path d="M872.5 445 V408.5 Q872.5 406.5 870.5 406.5 H864" fill="none" stroke="#000" stroke-width="1"/>
<path d="M875.5 435 V400 Q875.5 398.5 874 398.5 H864" fill="none" stroke="#000" stroke-width="1"/>
<path d="M879.5 435 V397.5 Q879.5 395.5 877.5 395.5 H864" fill="none" stroke="#000" stroke-width="1"/>
<rect x="936.5" y="391.5" width="11" height="23" fill="none" stroke="#000" stroke-width="1"/>
<rect x="932.5" y="414.5" width="19" height="19" fill="none" stroke="#000" stroke-width="1"/>
<circle cx="190.5" cy="492.5" r="32.2" fill="none" stroke="#000" stroke-width="1.15"/>
<circle cx="190.5" cy="492.5" r="27" fill="none" stroke="#000" stroke-width="1.15"/>
<circle cx="190.5" cy="492.5" r="24" fill="none" stroke="#000" stroke-width="1.15"/>
<path d="M226.5 472.5 H154.5 V511.5 A8 8 0 0 1 146.5 519.5 H138.5 V524.5 H241.5 V519.5 H234.5 A8 8 0 0 1 226.5 511.5 V472.5" fill="none" stroke="#000" stroke-width="1"/>
<rect x="155.5" y="470.5" width="8" height="2" fill="none" stroke="#000" stroke-width="1" rx="1"/>
<line x1="159.5" y1="470.5" x2="159.5" y2="472.5" stroke="#777" stroke-width="1"/>
<rect x="217.5" y="470.5" width="8" height="2" fill="none" stroke="#000" stroke-width="1" rx="1"/>
<line x1="221.5" y1="470.5" x2="221.5" y2="472.5" stroke="#777" stroke-width="1"/>
<line x1="122" y1="492.5" x2="237" y2="492.5" stroke="#000" stroke-width="1"/>
<line x1="190.5" y1="472" x2="190.5" y2="560" stroke="#000" stroke-width="1"/>
<circle cx="307.5" cy="492.5" r="32.2" fill="none" stroke="#000" stroke-width="1.15"/>
<circle cx="307.5" cy="492.5" r="27" fill="none" stroke="#000" stroke-width="1.15"/>
<circle cx="307.5" cy="492.5" r="24" fill="none" stroke="#000" stroke-width="1.15"/>
<path d="M343.5 472.5 H271.5 V511.5 A8 8 0 0 1 263.5 519.5 H255.5 V524.5 H358.5 V519.5 H351.5 A8 8 0 0 1 343.5 511.5 V472.5" fill="none" stroke="#000" stroke-width="1"/>
<rect x="272.5" y="470.5" width="8" height="2" fill="none" stroke="#000" stroke-width="1" rx="1"/>
<line x1="276.5" y1="470.5" x2="276.5" y2="472.5" stroke="#777" stroke-width="1"/>
<rect x="334.5" y="470.5" width="8" height="2" fill="none" stroke="#000" stroke-width="1" rx="1"/>
<line x1="338.5" y1="470.5" x2="338.5" y2="472.5" stroke="#777" stroke-width="1"/>
<line x1="239" y1="492.5" x2="354" y2="492.5" stroke="#000" stroke-width="1"/>
<line x1="307.5" y1="472" x2="307.5" y2="560" stroke="#000" stroke-width="1"/>
<circle cx="439.5" cy="492.5" r="32.2" fill="none" stroke="#000" stroke-width="1.15"/>
<circle cx="439.5" cy="492.5" r="27" fill="none" stroke="#000" stroke-width="1.15"/>
<circle cx="439.5" cy="492.5" r="24" fill="none" stroke="#000" stroke-width="1.15"/>
<path d="M476.5 472.5 H403.5 V511.5 A8 8 0 0 1 395.5 519.5 H387.5 V524.5 H491.5 V519.5 H484.5 A8 8 0 0 1 476.5 511.5 V472.5" fill="none" stroke="#000" stroke-width="1"/>
<rect x="404.5" y="470.5" width="8" height="2" fill="none" stroke="#000" stroke-width="1" rx="1"/>
<line x1="408.5" y1="470.5" x2="408.5" y2="472.5" stroke="#777" stroke-width="1"/>
<rect x="467.5" y="470.5" width="8" height="2" fill="none" stroke="#000" stroke-width="1" rx="1"/>
<line x1="471.5" y1="470.5" x2="471.5" y2="472.5" stroke="#777" stroke-width="1"/>
<line x1="371" y1="492.5" x2="486" y2="492.5" stroke="#000" stroke-width="1"/>
<line x1="439.5" y1="472" x2="439.5" y2="560" stroke="#000" stroke-width="1"/>
<circle cx="823.1" cy="492.5" r="32.2" fill="none" stroke="#000" stroke-width="1.15"/>
<circle cx="823.1" cy="492.5" r="27" fill="none" stroke="#000" stroke-width="1.15"/>
<circle cx="823.1" cy="492.5" r="24" fill="none" stroke="#000" stroke-width="1.15"/>
<path d="M859.5 472.5 H786.5 V511.5 A8 8 0 0 1 778.5 519.5 H771.5 V524.5 H874.5 V519.5 H867.5 A8 8 0 0 1 859.5 511.5 V472.5" fill="none" stroke="#000" stroke-width="1"/>
<rect x="787.5" y="470.5" width="8" height="2" fill="none" stroke="#000" stroke-width="1" rx="1"/>
<line x1="791.5" y1="470.5" x2="791.5" y2="472.5" stroke="#777" stroke-width="1"/>
<rect x="850.5" y="470.5" width="8" height="2" fill="none" stroke="#000" stroke-width="1" rx="1"/>
<line x1="854.5" y1="470.5" x2="854.5" y2="472.5" stroke="#777" stroke-width="1"/>
<line x1="755" y1="492.5" x2="869" y2="492.5" stroke="#000" stroke-width="1"/>
<line x1="823.5" y1="472" x2="823.5" y2="560" stroke="#000" stroke-width="1"/>
<line x1="437" y1="216.5" x2="456" y2="216.5" stroke="#000" stroke-width="1"/>
<line x1="437" y1="250.5" x2="456" y2="250.5" stroke="#000" stroke-width="1"/>
<line x1="465" y1="216.5" x2="482" y2="216.5" stroke="#000" stroke-width="1"/>
<line x1="465" y1="250.5" x2="482" y2="250.5" stroke="#000" stroke-width="1"/>
<line x1="498" y1="216.5" x2="525" y2="216.5" stroke="#000" stroke-width="1"/>
<line x1="498" y1="251.5" x2="525" y2="251.5" stroke="#000" stroke-width="1"/>
<line x1="569" y1="216.5" x2="588" y2="216.5" stroke="#000" stroke-width="1"/>
<line x1="569" y1="250.5" x2="588" y2="250.5" stroke="#000" stroke-width="1"/>
<line x1="596" y1="216.5" x2="614" y2="216.5" stroke="#000" stroke-width="1"/>
<line x1="596" y1="250.5" x2="614" y2="250.5" stroke="#000" stroke-width="1"/>
<line x1="630" y1="216.5" x2="657" y2="216.5" stroke="#000" stroke-width="1"/>
<line x1="630" y1="251.5" x2="657" y2="251.5" stroke="#000" stroke-width="1"/>
<line x1="522" y1="476.5" x2="541" y2="476.5" stroke="#000" stroke-width="1"/>
<line x1="522" y1="511.5" x2="541" y2="511.5" stroke="#000" stroke-width="1"/>
<line x1="549" y1="476.5" x2="567" y2="476.5" stroke="#000" stroke-width="1"/>
<line x1="549" y1="511.5" x2="567" y2="511.5" stroke="#000" stroke-width="1"/>
<line x1="583" y1="477.5" x2="610" y2="477.5" stroke="#000" stroke-width="1"/>
<line x1="583" y1="511.5" x2="610" y2="511.5" stroke="#000" stroke-width="1"/>
<line x1="643" y1="476.5" x2="662" y2="476.5" stroke="#000" stroke-width="1"/>
<line x1="643" y1="511.5" x2="662" y2="511.5" stroke="#000" stroke-width="1"/>
<line x1="670" y1="476.5" x2="688" y2="476.5" stroke="#000" stroke-width="1"/>
<line x1="670" y1="511.5" x2="688" y2="511.5" stroke="#000" stroke-width="1"/>
<line x1="704" y1="477.5" x2="731" y2="477.5" stroke="#000" stroke-width="1"/>
<line x1="704" y1="511.5" x2="731" y2="511.5" stroke="#000" stroke-width="1"/>
<path d="M947.5 395.5 H960.5 Q962.5 395.5 962.5 397.5 V434" fill="none" stroke="#000" stroke-width="1"/>
<path d="M947.5 398.5 H959 Q960.5 398.5 960.5 400 V434" fill="none" stroke="#000" stroke-width="1"/>
<rect x="955.5" y="434.5" width="12" height="17" fill="none" stroke="#000" stroke-width="1"/>
<line x1="956" y1="434" x2="956" y2="452" stroke="#000" stroke-width="2"/>
<rect x="957.5" y="451.5" width="8" height="8" fill="none" stroke="#000" stroke-width="1"/>
<line x1="961.5" y1="434" x2="961.5" y2="473" stroke="#000" stroke-width="1"/>
<circle cx="961.9" cy="492.5" r="32.2" fill="none" stroke="#000" stroke-width="1.15"/>
<circle cx="961.9" cy="492.5" r="27" fill="none" stroke="#000" stroke-width="1.15"/>
<circle cx="961.9" cy="492.5" r="24" fill="none" stroke="#000" stroke-width="1.15"/>
<path d="M997.5 472.5 H925.5 V511.5 A8 8 0 0 1 917.5 519.5 H910.5 V524.5 H1013.5 V519.5 H1005.5 A8 8 0 0 1 997.5 511.5 V472.5" fill="none" stroke="#000" stroke-width="1"/>
<rect x="926.5" y="470.5" width="8" height="2" fill="none" stroke="#000" stroke-width="1" rx="1"/>
<line x1="930.5" y1="470.5" x2="930.5" y2="472.5" stroke="#777" stroke-width="1"/>
<rect x="988.5" y="470.5" width="8" height="2" fill="none" stroke="#000" stroke-width="1" rx="1"/>
<line x1="992.5" y1="470.5" x2="992.5" y2="472.5" stroke="#777" stroke-width="1"/>
<line x1="998" y1="511.5" x2="1044" y2="511.5" stroke="#000" stroke-width="1"/>
<rect x="1223.5" y="81.5" width="93" height="99" fill="none" stroke="#000" stroke-width="1"/>
<rect x="1230.5" y="75.5" width="80" height="99" fill="none" stroke="#000" stroke-width="1"/>
<line x1="1230.5" y1="75.5" x2="1223.5" y2="81.5" stroke="#000" stroke-width="1.3"/>
<line x1="1310.5" y1="75.5" x2="1316.5" y2="81.5" stroke="#000" stroke-width="1.3"/>
<line x1="1230.5" y1="174.5" x2="1223.5" y2="180.5" stroke="#000" stroke-width="1.3"/>
<line x1="1310.5" y1="174.5" x2="1316.5" y2="180.5" stroke="#000" stroke-width="1.3"/>
<rect x="1294.5" y="57.5" width="5" height="13" fill="none" stroke="#000" stroke-width="1"/>
<line x1="1294" y1="64.5" x2="1300" y2="64.5" stroke="#000" stroke-width="1"/>
<line x1="1297" y1="70" x2="1297" y2="75" stroke="#000" stroke-width="2"/>
<rect x="1261.5" y="121.5" width="11" height="14" fill="none" stroke="#000" stroke-width="1"/>
<circle cx="1267" cy="131.3" r="4" fill="none" stroke="#000" stroke-width="1.25"/>
<rect x="1237.5" y="139.5" width="16" height="22" fill="none" stroke="#000" stroke-width="1"/>
<circle cx="1245.3" cy="154.7" r="6.2" fill="none" stroke="#000" stroke-width="1.3"/>
<rect x="1259.5" y="139.5" width="16" height="22" fill="none" stroke="#000" stroke-width="1"/>
<circle cx="1267.3" cy="154.7" r="6.2" fill="none" stroke="#000" stroke-width="1.3"/>
<rect x="1280.5" y="139.5" width="16" height="22" fill="none" stroke="#000" stroke-width="1"/>
<circle cx="1288.3" cy="154.7" r="6.2" fill="none" stroke="#000" stroke-width="1.3"/>
<rect x="1230.5" y="181" width="5" height="3" fill="none" stroke="#000" stroke-width="1.3" rx="0.8"/>
<rect x="1231.5" y="184.5" width="3" height="2.3" fill="none" stroke="#000" stroke-width="1.3" rx="0.6"/>
<rect x="1236.5" y="181" width="5" height="3" fill="none" stroke="#000" stroke-width="1.3" rx="0.8"/>
<rect x="1237.5" y="184.5" width="3" height="2.3" fill="none" stroke="#000" stroke-width="1.3" rx="0.6"/>
<rect x="1242.5" y="181" width="5" height="3" fill="none" stroke="#000" stroke-width="1.3" rx="0.8"/>
<rect x="1243.5" y="184.5" width="3" height="2.3" fill="none" stroke="#000" stroke-width="1.3" rx="0.6"/>
<rect x="1248.5" y="181" width="5" height="3" fill="none" stroke="#000" stroke-width="1.3" rx="0.8"/>
<rect x="1249.5" y="184.5" width="3" height="2.3" fill="none" stroke="#000" stroke-width="1.3" rx="0.6"/>
<line x1="1338.5" y1="90" x2="1338.5" y2="97" stroke="#000" stroke-width="1"/>
<line x1="1340.5" y1="90" x2="1340.5" y2="97" stroke="#000" stroke-width="1"/>
<path d="M1342 89.5 H1350 Q1353.5 89.5 1353.5 93 V101 H1346.5 V97 H1342 Z" fill="#000" stroke="#000" stroke-width="1"/>
<rect x="1343.3" y="90.6" width="2.5" height="2.2" fill="#fff" rx="0.8"/>
<rect x="1343.3" y="94" width="2.5" height="2" fill="#fff" rx="0.8"/>
<rect x="1347.3" y="91" width="4.7" height="5.3" fill="#fff" rx="0.8"/>
<rect x="1347.3" y="97.3" width="1.7" height="2.5" fill="#fff" rx="0.8"/>
<rect x="1350" y="97.3" width="2.3" height="2.5" fill="#fff" rx="0.8"/>
<rect x="1347" y="101" width="6" height="4" fill="#000"/>
<rect x="1348.5" y="102" width="3.5" height="0.6" fill="#999"/>
<line x1="1347.5" y1="105" x2="1347.5" y2="299" stroke="#000" stroke-width="1"/>
<line x1="1352.5" y1="105" x2="1352.5" y2="299" stroke="#000" stroke-width="1"/>
<line x1="1345" y1="298.5" x2="1355" y2="298.5" stroke="#000" stroke-width="2"/>
<path d="M1347.5 299 V304 Q1347.5 309.5 1342 309.5 H1336.5" fill="none" stroke="#000" stroke-width="1"/>
<path d="M1352.5 299 V309 Q1352.5 317.5 1344 317.5 H1336.5" fill="none" stroke="#000" stroke-width="1"/>
<path d="M1233.5 187 V289" fill="none" stroke="#000" stroke-width="1"/>
<path d="M1239.5 187 V218 Q1239.5 220.5 1242 220.5 H1292 Q1295.5 220.5 1295.5 224 V289" fill="none" stroke="#000" stroke-width="1"/>
<path d="M1245.5 187 V196 Q1245.5 200.5 1250 200.5 H1331 Q1335.5 200.5 1335.5 205 V249 Q1335.5 254.5 1342 254.5 H1421 Q1425.5 254.5 1425.5 259 V367 Q1425.5 372.5 1420 372.5 H1408.5" fill="none" stroke="#000" stroke-width="1"/>
<path d="M1341 190 L1324.5 219.5 H1312" fill="none" stroke="#222" stroke-width="1.1"/>
<rect x="1214.5" y="289.5" width="122" height="120" fill="none" stroke="#000" stroke-width="1"/>
<circle cx="1306.6" cy="318" r="7.7" fill="none" stroke="#000" stroke-width="1"/>
<circle cx="1306.8" cy="347.8" r="7.3" fill="none" stroke="#000" stroke-width="1.15"/>
<circle cx="1306.8" cy="347.8" r="5.4" fill="none" stroke="#000" stroke-width="1.1"/>
<line x1="1302.8" y1="349.6" x2="1306.6" y2="347.8" stroke="#000" stroke-width="1.3"/>
<rect x="1305" y="350" width="4" height="1.9" fill="#000"/>
<circle cx="1306.8" cy="376.8" r="7.3" fill="none" stroke="#000" stroke-width="1.15"/>
<circle cx="1306.8" cy="376.8" r="5.4" fill="none" stroke="#000" stroke-width="1.1"/>
<line x1="1302.8" y1="378.6" x2="1306.6" y2="376.8" stroke="#000" stroke-width="1.3"/>
<rect x="1305" y="379" width="4" height="1.9" fill="#000"/>
<line x1="1243" y1="351.5" x2="1291" y2="351.5" stroke="#000" stroke-width="1"/>
<line x1="1264" y1="381.5" x2="1295" y2="381.5" stroke="#000" stroke-width="1"/>
<rect x="1322.5" y="368.5" width="2" height="25" fill="none" stroke="#000" stroke-width="1" rx="1"/>
<rect x="1225.5" y="386.5" width="20" height="20" fill="none" stroke="#000" stroke-width="1"/>
<path d="M1235.1 388.8 L1230.4 400.6" fill="none" stroke="#000" stroke-width="1.1"/>
<path d="M1235.3 388.8 L1241 400.4" fill="none" stroke="#000" stroke-width="2" stroke-dasharray="2.4 0.3"/>
<circle cx="1233.7" cy="397" r="0.8" fill="#000" stroke="#000" stroke-width="0"/>
<rect x="1247.5" y="394.5" width="26" height="11" fill="none" stroke="#000" stroke-width="1"/>
<path d="M1333 371.7 H1355.5 L1356.8 373 V380.5 L1354.5 382.7 H1338 L1335 380.5 V375.5 L1333 374.5 Z" fill="#000" stroke="#000" stroke-width="0.3"/>
<line x1="1356" y1="375.5" x2="1450" y2="375.5" stroke="#000" stroke-width="1"/>
<line x1="1356" y1="378.5" x2="1450" y2="378.5" stroke="#000" stroke-width="1"/>
<rect x="1389.5" y="352.5" width="25" height="19" fill="none" stroke="#000" stroke-width="1" rx="2.5"/>
<rect x="1391.5" y="356.5" width="3" height="10" fill="none" stroke="#000" stroke-width="1"/>
<rect x="1396.7" y="355.8" width="2.8" height="11" fill="#000"/>
<line x1="1402.5" y1="371" x2="1402.5" y2="376" stroke="#000" stroke-width="1.6"/>
<line x1="1397.5" y1="332" x2="1397.5" y2="349" stroke="#000" stroke-width="1"/>
<line x1="1128.4" y1="374.6" x2="1195.6" y2="368.2" stroke="#000" stroke-width="1"/>
<line x1="1076.5" y1="110" x2="1076.5" y2="165" stroke="#000" stroke-width="1"/>
<line x1="1025" y1="316.5" x2="1055" y2="316.5" stroke="#000" stroke-width="1"/>
<line x1="901" y1="422.5" x2="926" y2="422.5" stroke="#000" stroke-width="1"/>
<line x1="972" y1="274.5" x2="1012" y2="274.5" stroke="#000" stroke-width="1"/>
<line x1="972" y1="332.5" x2="1012" y2="332.5" stroke="#000" stroke-width="1"/>
<rect x="972" y="274" width="2" height="59" fill="#000"/>
<rect x="1010" y="274" width="2" height="59" fill="#000"/>
<line x1="991.5" y1="274" x2="991.5" y2="333" stroke="#000" stroke-width="1"/>
<rect x="978.5" y="332.5" width="27" height="27" fill="none" stroke="#000" stroke-width="1"/>
<rect x="991" y="332" width="2" height="28" fill="#000"/>
<path d="M992.5 362 V376.5 H1018" fill="none" stroke="#000" stroke-width="1"/>
<line x1="1231" y1="427.5" x2="1465" y2="427.5" stroke="#000" stroke-width="1"/>
<line x1="1231" y1="445.5" x2="1465" y2="445.5" stroke="#000" stroke-width="1"/>
<line x1="1231" y1="464.5" x2="1465" y2="464.5" stroke="#000" stroke-width="1"/>
<line x1="1231" y1="483.5" x2="1465" y2="483.5" stroke="#000" stroke-width="1"/>
<line x1="1231" y1="501.5" x2="1465" y2="501.5" stroke="#000" stroke-width="1"/>
<line x1="1231" y1="519.5" x2="1465" y2="519.5" stroke="#000" stroke-width="1"/>
<line x1="1231" y1="537.5" x2="1465" y2="537.5" stroke="#000" stroke-width="1"/>
<line x1="1231" y1="555.5" x2="1465" y2="555.5" stroke="#000" stroke-width="1"/>
<line x1="1231.5" y1="427" x2="1231.5" y2="556" stroke="#000" stroke-width="1"/>
<line x1="1257.5" y1="427" x2="1257.5" y2="556" stroke="#000" stroke-width="1"/>
<line x1="1348.5" y1="427" x2="1348.5" y2="556" stroke="#000" stroke-width="1"/>
<line x1="1377.5" y1="427" x2="1377.5" y2="556" stroke="#000" stroke-width="1"/>
<line x1="1106" y1="555.5" x2="1465" y2="555.5" stroke="#000" stroke-width="1"/>
<line x1="1106" y1="587.5" x2="1465" y2="587.5" stroke="#000" stroke-width="1"/>
<line x1="1106" y1="603.5" x2="1465" y2="603.5" stroke="#000" stroke-width="1"/>
<line x1="1106" y1="618.5" x2="1288" y2="618.5" stroke="#000" stroke-width="1"/>
<line x1="1106" y1="571.5" x2="1209" y2="571.5" stroke="#000" stroke-width="1"/>
<line x1="1337" y1="571.5" x2="1397" y2="571.5" stroke="#000" stroke-width="1"/>
<line x1="1106.5" y1="555" x2="1106.5" y2="634" stroke="#000" stroke-width="1"/>
<line x1="1208.5" y1="555" x2="1208.5" y2="634" stroke="#000" stroke-width="1"/>
<line x1="1121.5" y1="571" x2="1121.5" y2="634" stroke="#000" stroke-width="1"/>
<line x1="1167.5" y1="571" x2="1167.5" y2="634" stroke="#000" stroke-width="1"/>
<line x1="1184.5" y1="571" x2="1184.5" y2="634" stroke="#000" stroke-width="1"/>
<line x1="1227.5" y1="587" x2="1227.5" y2="634" stroke="#000" stroke-width="1"/>
<line x1="1267.5" y1="587" x2="1267.5" y2="634" stroke="#000" stroke-width="1"/>
<line x1="1287.5" y1="587" x2="1287.5" y2="634" stroke="#000" stroke-width="1"/>
<line x1="1337.5" y1="555" x2="1337.5" y2="604" stroke="#000" stroke-width="1"/>
<line x1="1361.5" y1="555" x2="1361.5" y2="604" stroke="#000" stroke-width="1"/>
<line x1="1396.5" y1="555" x2="1396.5" y2="604" stroke="#000" stroke-width="1"/>
<path d="M644 575.8 H819.7 L817.5 581 H651.5 V589.3 H657.5 V596 H651.5 V616.8 H644 Z" fill="#b8b6d6"/>
<rect x="1329.5" y="607.5" width="98" height="24" fill="none" stroke="#2b1f7a" stroke-width="1"/>
<path d="M1330 608 H1427 V610.2 H1334.6 V615 H1337 V618 H1334.6 V631 H1330 Z" fill="#2b1f7a"/>
</g>
</svg></body></html>
